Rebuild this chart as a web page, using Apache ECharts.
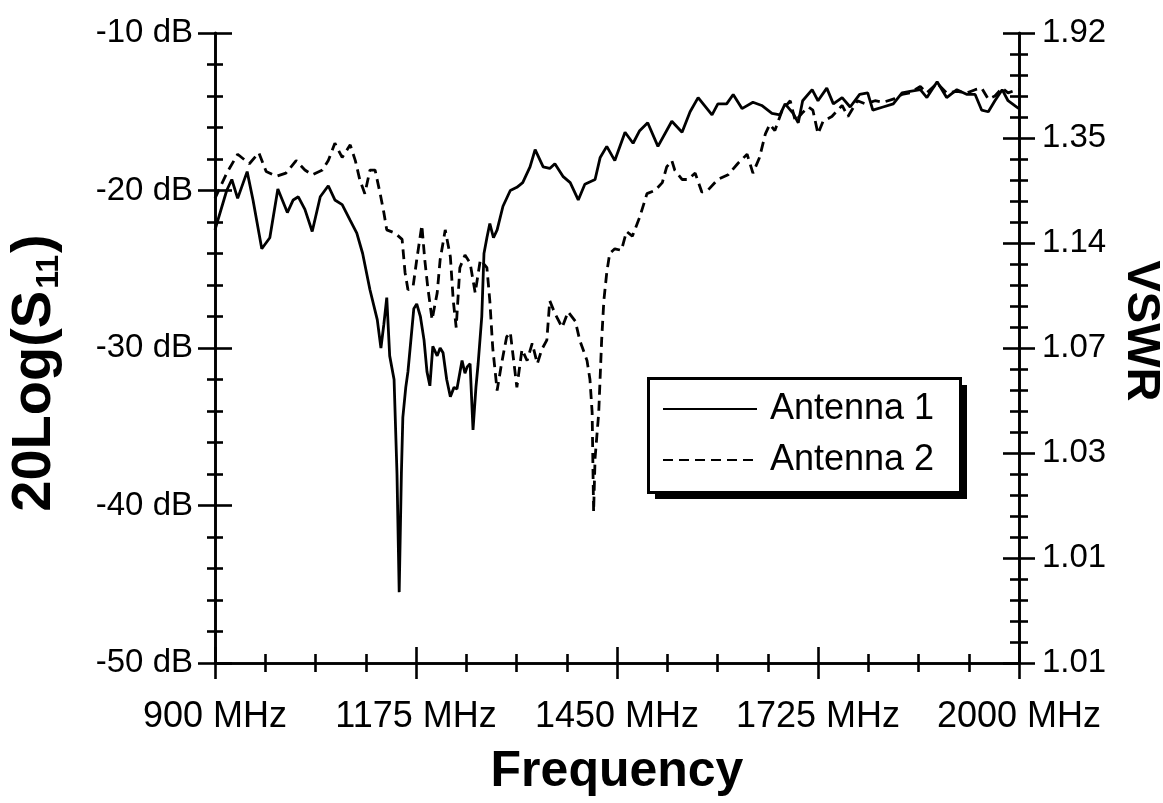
<!DOCTYPE html>
<html>
<head>
<meta charset="utf-8">
<script src="https://cdn.jsdelivr.net/npm/echarts@6/dist/echarts.min.js"></script>
<style>
html,body{margin:0;padding:0;background:#fff;}
#chart{width:1163px;height:803px;}
</style>
</head>
<body>
<div id="chart"></div>
<script>
// ---- data ----
const ant1Freq = [900,916,923,931,944,952,964,975,986,999,1007,1014,1023,1033,1044,1055,1064,1074,1085,1094,1102,1112,1122,1127,1131,1135,1139,1145,1149,1152,1155,1157,1161,1164,1168,1172,1176,1181,1186,1190,1194,1198,1204,1208,1212,1217,1222,1227,1231,1238,1242,1245,1249,1253,1257,1260,1265,1268,1272,1276,1281,1286,1294,1304,1313,1321,1331,1338,1349,1358,1365,1376,1386,1397,1406,1420,1427,1436,1447,1461,1472,1481,1492,1506,1525,1539,1550,1561,1580,1588,1600,1609,1621,1636,1648,1662,1673,1680,1691,1698,1704,1717,1725,1737,1746,1758,1769,1782,1793,1800,1814,1828,1840,1851,1865,1874,1888,1901,1915,1929,1940,1949,1958,1967,1977,1985,1997,2000];
const ant1Db = [-22.5,-20.0,-19.3,-20.5,-18.8,-20.6,-23.7,-23.0,-19.9,-21.4,-20.6,-20.4,-21.2,-22.6,-20.4,-19.7,-20.6,-20.9,-21.9,-22.7,-24.0,-26.3,-28.2,-30.0,-28.5,-26.8,-30.5,-32.0,-38.0,-45.5,-38.0,-34.4,-32.5,-31.5,-29.5,-27.5,-27.2,-28.0,-29.5,-31.5,-32.4,-29.9,-30.5,-30.0,-30.3,-32.0,-33.1,-32.5,-32.6,-30.8,-31.6,-31.2,-31.0,-35.2,-32.5,-31.0,-28.0,-24.0,-23.0,-22.1,-23.0,-22.5,-21.0,-20.0,-19.8,-19.5,-18.5,-17.4,-18.5,-18.6,-18.3,-19.1,-19.5,-20.6,-19.6,-19.3,-17.9,-17.2,-18.1,-16.3,-17.0,-16.2,-15.7,-17.2,-15.6,-16.3,-15.0,-14.1,-15.2,-14.5,-14.5,-13.9,-14.8,-14.4,-14.6,-15.1,-15.2,-14.5,-15.1,-15.7,-14.3,-13.6,-14.3,-13.5,-14.5,-14.1,-14.7,-13.9,-13.8,-14.9,-14.7,-14.5,-13.8,-13.7,-13.6,-14.1,-13.1,-14.1,-13.6,-13.9,-13.9,-14.9,-15.0,-14.3,-13.6,-14.3,-14.7,-14.8];

const ant2Freq = [900,916,931,947,960,970,984,997,1011,1023,1033,1047,1055,1064,1074,1085,1092,1098,1105,1112,1119,1126,1131,1135,1146,1156,1160,1164,1171,1176,1183,1187,1191,1197,1204,1208,1215,1222,1226,1230,1235,1242,1249,1256,1263,1272,1276,1280,1286,1292,1299,1304,1313,1320,1327,1334,1341,1347,1354,1358,1365,1375,1383,1393,1399,1409,1413,1416,1417,1418,1420,1425,1429,1432,1436,1440,1447,1456,1463,1471,1481,1491,1502,1512,1518,1525,1529,1539,1547,1557,1566,1574,1588,1602,1615,1628,1636,1645,1653,1659,1666,1676,1687,1694,1703,1712,1718,1725,1732,1744,1758,1766,1779,1790,1803,1814,1828,1840,1851,1865,1874,1888,1901,1915,1929,1940,1949,1958,1967,1977,1985,1997,2000];
const ant2Db = [-20.5,-18.9,-17.7,-18.3,-17.6,-18.8,-19.1,-18.9,-18.1,-18.7,-19.0,-18.7,-18.1,-17.0,-17.9,-17.1,-18.1,-19.3,-20.2,-18.7,-18.7,-20.2,-21.4,-22.5,-22.7,-23.1,-25.2,-26.3,-26.1,-24.4,-22.2,-24.4,-26.1,-28.2,-26.5,-24.4,-22.5,-24.2,-27.0,-28.7,-24.9,-24.1,-24.6,-26.5,-24.4,-24.9,-27.0,-30.0,-32.7,-31.0,-29.3,-29.0,-32.5,-30.1,-30.8,-29.7,-31.0,-30.1,-29.5,-27.0,-27.8,-28.7,-27.7,-28.3,-29.5,-30.8,-32.0,-34.1,-37.3,-40.4,-37.0,-34.1,-29.5,-27.0,-25.2,-24.0,-23.7,-23.8,-22.6,-22.9,-21.7,-20.2,-20.0,-19.5,-18.5,-18.1,-18.7,-19.3,-19.3,-18.9,-20.1,-20.0,-19.3,-19.0,-18.3,-17.7,-18.9,-17.9,-16.4,-15.8,-16.2,-14.9,-14.3,-15.6,-15.1,-14.7,-14.9,-16.4,-15.6,-15.3,-14.6,-15.3,-14.3,-14.5,-14.3,-14.4,-14.2,-13.9,-13.8,-13.4,-13.8,-13.2,-13.8,-13.7,-13.8,-13.6,-13.5,-14.2,-14.0,-13.5,-13.8,-13.6,-13.6];

const freqStart = 900, freqEnd = 2000, freqStep = 275;
const dbMin = -50, dbMax = -10, dbStep = 10;
const vswrLabels = ['1.01','1.01','1.03','1.07','1.14','1.35','1.92'];
const seriesNames = ['Antenna 1','Antenna 2'];

// ---- chart ----
const FONT = "'Liberation Sans', Arial, Helvetica, sans-serif";
const toPairs = (fs, ds) => fs.map((f, i) => [f - freqStart, ds[i]]);

const lineW = 2.6;
const baseAxisLine = {show: true, lineStyle: {color: '#000', width: lineW}};

function xAx(inside, labels) {
  return {
    type: 'value', position: 'bottom', min: 0, max: freqEnd - freqStart, interval: freqStep,
    axisLine: baseAxisLine,
    axisTick: {show: true, inside: inside, length: 16, lineStyle: {color: '#000', width: lineW}},
    minorTick: {show: true, splitNumber: 4, length: 9, lineStyle: {color: '#000', width: lineW}},
    splitLine: {show: false}, minorSplitLine: {show: false},
    axisLabel: labels ? {show: true, margin: 36, color: '#000', fontSize: 36, fontFamily: FONT,
      hideOverlap: false, formatter: v => (v + freqStart) + ' MHz'} : {show: false},
    name: labels ? 'Frequency' : '', nameLocation: 'middle', nameGap: 84,
    nameTextStyle: {color: '#000', fontSize: 50, fontWeight: 'bold', fontFamily: FONT}
  };
}
function yLeft(inside, labels) {
  return {
    type: 'value', position: 'left', min: dbMin, max: dbMax, interval: dbStep,
    axisLine: baseAxisLine,
    axisTick: {show: true, inside: inside, length: 17, lineStyle: {color: '#000', width: lineW}},
    minorTick: {show: true, splitNumber: 5, length: 8, lineStyle: {color: '#000', width: lineW}},
    splitLine: {show: false}, minorSplitLine: {show: false},
    axisLabel: labels ? {show: true, margin: 22, color: '#000', fontSize: 33, fontFamily: FONT,
      formatter: v => v + ' dB'} : {show: false},
    name: labels ? '{a|20Log(S}{b|11}{a|)}' : '', nameLocation: 'middle', nameGap: 150, nameRotate: 90,
    nameTextStyle: {color: '#000', fontFamily: FONT, padding: [0, 50, 0, 0],
      rich: {
        a: {fontSize: 56, fontWeight: 'bold', fontFamily: FONT, color: '#000'},
        b: {fontSize: 32, fontWeight: 'bold', fontFamily: FONT, color: '#000', padding: [28, 2, 0, 2]}
      }}
  };
}
function yRight(inside, labels) {
  return {
    type: 'value', position: 'right', min: 0, max: vswrLabels.length - 1, interval: 1,
    axisLine: baseAxisLine,
    axisTick: {show: true, inside: inside, length: 16, lineStyle: {color: '#000', width: lineW}},
    minorTick: {show: true, splitNumber: 5, length: 9, lineStyle: {color: '#000', width: lineW}},
    splitLine: {show: false}, minorSplitLine: {show: false},
    axisLabel: labels ? {show: true, margin: 23, color: '#000', fontSize: 33, fontFamily: FONT,
      formatter: v => vswrLabels[Math.round(v)]} : {show: false},
    name: labels ? 'VSWR' : '', nameLocation: 'middle', nameGap: 91, nameRotate: -90,
    nameTextStyle: {color: '#000', fontSize: 47, fontWeight: 'bold', fontFamily: FONT, padding: [0, 34, 0, 0]}
  };
}

// legend box geometry
const LG = {left: 647, top: 377, w: 312, h: 114, sh: 8};

const chart = echarts.init(document.getElementById('chart'), null, {renderer: 'canvas'});
chart.setOption({
  animation: false,
  backgroundColor: '#fff',
  grid: {left: 215, right: 144, top: 33, bottom: 140, containLabel: false, outerBoundsMode: 'none'},
  xAxis: [xAx(true, true), xAx(false, false)],
  yAxis: [yLeft(true, true), yLeft(false, false), yRight(true, true), yRight(false, false)],
  graphic: [
    {type: 'rect', left: LG.left + LG.sh, top: LG.top + LG.sh, z: 90,
      shape: {width: LG.w, height: LG.h}, style: {fill: '#000'}},
    {type: 'rect', left: LG.left, top: LG.top, z: 91,
      shape: {width: LG.w, height: LG.h}, style: {fill: '#fff', stroke: '#000', lineWidth: 3}}
  ],
  legend: {
    orient: 'vertical', left: LG.left + 1, top: LG.top + 2, z: 100,
    data: seriesNames,
    itemWidth: 94, itemHeight: 14, itemGap: 15,
    padding: [12, 24, 12, 14],
    itemStyle: {opacity: 0},
    textStyle: {color: '#000', fontSize: 36, fontFamily: FONT, padding: [0, 0, 0, 8]},
    selectedMode: false
  },
  series: [
    {name: seriesNames[0], type: 'line', xAxisIndex: 0, yAxisIndex: 0, symbol: 'none', smooth: false,
      data: toPairs(ant1Freq, ant1Db), lineStyle: {color: '#000', width: 2.8, type: 'solid'}, itemStyle: {color: '#000'}},
    {name: seriesNames[1], type: 'line', xAxisIndex: 0, yAxisIndex: 0, symbol: 'none', smooth: false,
      data: toPairs(ant2Freq, ant2Db), lineStyle: {color: '#000', width: 2.8, type: [10, 6]}, itemStyle: {color: '#000'}}
  ]
});
</script>
</body>
</html>
